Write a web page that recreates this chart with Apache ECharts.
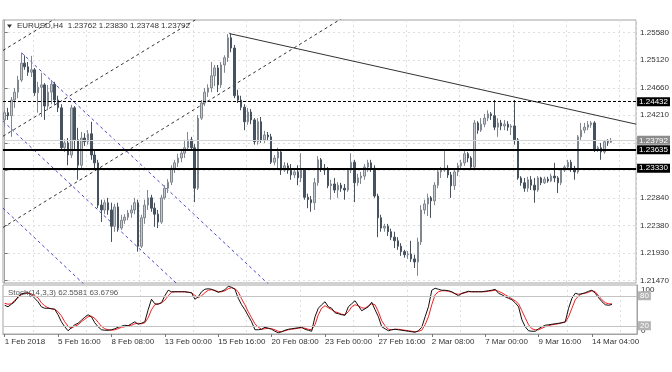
<!DOCTYPE html>
<html><head><meta charset="utf-8">
<script src="https://cdn.jsdelivr.net/npm/echarts@6/dist/echarts.min.js"></script>
<style>html,body{margin:0;padding:0;background:#fff}#c{width:672px;height:372px}</style>
</head><body><div id="c"></div>
<script>
// ---------- DATA ----------
const tradingDays = ['1 Feb','2 Feb','5 Feb','6 Feb','7 Feb','8 Feb','9 Feb','12 Feb','13 Feb','14 Feb','15 Feb','16 Feb','19 Feb','20 Feb','21 Feb','22 Feb','23 Feb','26 Feb','27 Feb','28 Feb','1 Mar','2 Mar','5 Mar','6 Mar','7 Mar','8 Mar','9 Mar','11 Mar','12 Mar','13 Mar','14 Mar','15 Mar'];
const h4Hours = ['00:00','04:00','08:00','12:00','16:00','20:00'];
const partialDays = {'11 Mar':['20:00'],'15 Mar':['00:00','04:00']};
const firstLabel = '1 Feb 2018';

// candles: [open, close, low, high]
const week1 = [
[1.2413,1.2425,1.2401,1.2429],[1.2425,1.2420,1.2413,1.2433],[1.2420,1.2446,1.2385,1.2451],[1.2446,1.2459,1.2433,1.2466],
[1.2459,1.2479,1.2449,1.2486],[1.2479,1.2507,1.2476,1.2524],[1.2507,1.2501,1.2496,1.2520],[1.2501,1.2492,1.2486,1.2509],
[1.2492,1.2496,1.2484,1.2519],[1.2496,1.2458,1.2453,1.2499],[1.2458,1.2467,1.2425,1.2476],[1.2467,1.2471,1.2418,1.2491]];
const week2 = [
[1.2471,1.2436,1.2413,1.2474],[1.2436,1.2459,1.2429,1.2471],[1.2459,1.2472,1.2439,1.2479],[1.2472,1.2446,1.2438,1.2476],
[1.2446,1.2433,1.2426,1.2453],[1.2433,1.2367,1.2363,1.2439],[1.2367,1.2375,1.2360,1.2381],[1.2375,1.2355,1.2338,1.2383],
[1.2355,1.2433,1.2350,1.2438],[1.2433,1.2380,1.2363,1.2436],[1.2380,1.2338,1.2314,1.2400],[1.2338,1.2383,1.2333,1.2393],
[1.2383,1.2377,1.2370,1.2391],[1.2377,1.2390,1.2372,1.2396],[1.2390,1.2355,1.2347,1.2410],[1.2355,1.2342,1.2333,1.2363],
[1.2342,1.2272,1.2267,1.2347],[1.2272,1.2264,1.2244,1.2281],[1.2264,1.2276,1.2257,1.2281],[1.2276,1.2264,1.2256,1.2284],
[1.2264,1.2237,1.2211,1.2276],[1.2237,1.2269,1.2228,1.2274],[1.2269,1.2234,1.2228,1.2276],[1.2234,1.2247,1.2231,1.2256],
[1.2247,1.2252,1.2241,1.2257],[1.2252,1.2259,1.2247,1.2264],[1.2259,1.2264,1.2251,1.2272],[1.2264,1.2276,1.2257,1.2284],
[1.2276,1.2204,1.2195,1.2281],[1.2204,1.2251,1.2201,1.2256]];
const week3 = [
[1.2251,1.2272,1.2241,1.2281],[1.2272,1.2284,1.2264,1.2297],[1.2284,1.2267,1.2261,1.2289],[1.2267,1.2257,1.2236,1.2276],
[1.2257,1.2244,1.2234,1.2264],[1.2244,1.2284,1.2241,1.2289],[1.2284,1.2300,1.2281,1.2305],[1.2300,1.2310,1.2292,1.2315],
[1.2310,1.2333,1.2305,1.2338],[1.2333,1.2342,1.2325,1.2347],[1.2342,1.2350,1.2335,1.2357],[1.2350,1.2358,1.2343,1.2363],
[1.2358,1.2367,1.2350,1.2380],[1.2367,1.2380,1.2362,1.2393],[1.2380,1.2367,1.2363,1.2385],[1.2367,1.2300,1.2277,1.2373],
[1.2300,1.2416,1.2297,1.2421],[1.2416,1.2441,1.2413,1.2446],[1.2441,1.2459,1.2436,1.2466],[1.2459,1.2466,1.2451,1.2472],
[1.2466,1.2486,1.2459,1.2509],[1.2486,1.2499,1.2469,1.2504],[1.2499,1.2471,1.2459,1.2504],[1.2471,1.2504,1.2466,1.2509],
[1.2504,1.2516,1.2491,1.2520],[1.2516,1.2549,1.2509,1.2555],[1.2549,1.2532,1.2525,1.2557],[1.2532,1.2453,1.2449,1.2537],
[1.2453,1.2446,1.2441,1.2463],[1.2446,1.2434,1.2429,1.2453]];
const week4 = [
[1.2434,1.2410,1.2396,1.2439],[1.2410,1.2426,1.2405,1.2433],[1.2426,1.2413,1.2406,1.2431],[1.2413,1.2377,1.2372,1.2416],
[1.2377,1.2410,1.2372,1.2416],[1.2410,1.2380,1.2375,1.2418],[1.2380,1.2388,1.2375,1.2395],[1.2388,1.2385,1.2378,1.2393],
[1.2385,1.2343,1.2340,1.2390],[1.2343,1.2350,1.2338,1.2355],[1.2350,1.2360,1.2333,1.2367],[1.2360,1.2330,1.2322,1.2363],
[1.2330,1.2337,1.2327,1.2343],[1.2337,1.2330,1.2324,1.2342],[1.2330,1.2322,1.2314,1.2340],[1.2322,1.2327,1.2317,1.2333],
[1.2327,1.2317,1.2305,1.2338],[1.2317,1.2330,1.2310,1.2358],[1.2330,1.2285,1.2281,1.2333],[1.2285,1.2281,1.2267,1.2291],
[1.2281,1.2276,1.2261,1.2287],[1.2276,1.2309,1.2264,1.2317],[1.2309,1.2347,1.2304,1.2353],[1.2347,1.2333,1.2327,1.2350],
[1.2333,1.2330,1.2322,1.2340],[1.2330,1.2304,1.2300,1.2335],[1.2304,1.2307,1.2281,1.2314],[1.2307,1.2297,1.2292,1.2317],
[1.2297,1.2305,1.2284,1.2310],[1.2305,1.2300,1.2294,1.2309]];
const week5 = [
[1.2300,1.2297,1.2281,1.2307],[1.2297,1.2330,1.2294,1.2333],[1.2330,1.2343,1.2325,1.2358],[1.2343,1.2309,1.2277,1.2347],
[1.2309,1.2317,1.2304,1.2324],[1.2317,1.2320,1.2307,1.2327],[1.2320,1.2335,1.2314,1.2340],[1.2335,1.2342,1.2327,1.2347],
[1.2342,1.2333,1.2327,1.2347],[1.2333,1.2287,1.2284,1.2338],[1.2287,1.2251,1.2219,1.2291],[1.2251,1.2234,1.2228,1.2256],
[1.2234,1.2237,1.2228,1.2241],[1.2237,1.2228,1.2221,1.2241],[1.2228,1.2219,1.2214,1.2233],[1.2219,1.2213,1.2201,1.2228],
[1.2213,1.2204,1.2198,1.2219],[1.2204,1.2195,1.2188,1.2209],[1.2195,1.2190,1.2185,1.2198],[1.2190,1.2191,1.2183,1.2196],
[1.2191,1.2183,1.2178,1.2213],[1.2183,1.2178,1.2168,1.2190],[1.2178,1.2211,1.2155,1.2218],[1.2211,1.2264,1.2206,1.2272],
[1.2264,1.2274,1.2257,1.2281],[1.2274,1.2284,1.2254,1.2291],[1.2284,1.2279,1.2251,1.2287],[1.2279,1.2305,1.2272,1.2310],
[1.2305,1.2327,1.2300,1.2333],[1.2327,1.2330,1.2317,1.2335]];
const week6 = [
[1.2330,1.2333,1.2327,1.2363],[1.2333,1.2322,1.2317,1.2338],[1.2322,1.2304,1.2284,1.2327],[1.2304,1.2327,1.2297,1.2330],
[1.2327,1.2337,1.2320,1.2342],[1.2337,1.2342,1.2330,1.2347],[1.2342,1.2357,1.2337,1.2363],[1.2357,1.2350,1.2343,1.2360],
[1.2350,1.2335,1.2330,1.2353],[1.2335,1.2408,1.2330,1.2413],[1.2408,1.2396,1.2390,1.2411],[1.2396,1.2406,1.2393,1.2416],
[1.2406,1.2416,1.2401,1.2423],[1.2416,1.2423,1.2411,1.2429],[1.2423,1.2420,1.2413,1.2426],[1.2420,1.2401,1.2396,1.2446],
[1.2401,1.2408,1.2385,1.2416],[1.2408,1.2403,1.2396,1.2413],[1.2403,1.2406,1.2396,1.2413],[1.2406,1.2401,1.2395,1.2411],
[1.2401,1.2403,1.2388,1.2406],[1.2403,1.2380,1.2372,1.2446],[1.2380,1.2317,1.2314,1.2383],[1.2317,1.2309,1.2304,1.2320],
[1.2309,1.2300,1.2294,1.2317],[1.2300,1.2314,1.2294,1.2319],[1.2314,1.2305,1.2297,1.2320],[1.2305,1.2297,1.2276,1.2317],
[1.2297,1.2317,1.2294,1.2320],[1.2317,1.2309,1.2305,1.2319]];
const week7 = [
[1.2309,1.2315,1.2307,1.2319],[1.2315,1.2312,1.2309,1.2319],[1.2312,1.2320,1.2310,1.2324],[1.2320,1.2317,1.2310,1.2342],
[1.2317,1.2309,1.2292,1.2320],[1.2309,1.2330,1.2305,1.2333],[1.2330,1.2335,1.2327,1.2338],[1.2335,1.2343,1.2330,1.2347],
[1.2343,1.2333,1.2327,1.2347],[1.2333,1.2327,1.2314,1.2337],[1.2327,1.2385,1.2324,1.2388],[1.2385,1.2396,1.2380,1.2408],
[1.2396,1.2401,1.2391,1.2408],[1.2401,1.2405,1.2396,1.2411],[1.2405,1.2408,1.2400,1.2411],[1.2408,1.2363,1.2360,1.2411],
[1.2363,1.2367,1.2360,1.2370],[1.2367,1.2360,1.2347,1.2375],[1.2360,1.2377,1.2357,1.2380],[1.2377,1.2376,1.2370,1.2381],
[1.23762,1.23792,1.23748,1.23830]];

const stochMain = [
61,58,63,68,78,84,85,86,82,75, 68,58,55,55,54,53,42,28,18,10, 16,22,25,31,37,42,38,26,18,12,
11,11,12,14,17,19,21,20,24,28, 23,25,28,52,73,64,63,66,80,91, 88,88,88,88,88,87,86,73,78,88,
93,94,93,90,87,89,92,99,97,93, 75,62,52,40,28,12,12,13,17,15, 13,9,6,8,11,13,14,15,16,17,
13,11,9,38,55,62,68,58,55,46, 44,42,41,58,64,70,60,50,54,58, 67,52,38,18,14,10,12,13,12,11,
10,9,8,7,10,17,38,58,91,95, 93,91,91,90,88,84,80,85,87,89, 88,88,88,88,89,90,91,93,85,82,
78,75,72,66,58,32,18,10,9,9, 14,18,21,22,23,24,25,26,28,55, 75,85,83,84,86,89,91,85,76,68,
62,61,62.5581];
const stochSignal = [
65,63,64,71,76,82,85,85,84,80, 76,66,60,56,54,53,48,40,28,19, 15,19,22,28,33,38,39,35,27,19,
14,12,11,12,14,17,18,20,21,24, 25,24,26,36,52,62,64,66,71,80, 87,88,88,88,88,87,86,81,76,80,
86,91,92,91,88,88,90,94,96,94, 88,74,62,48,36,24,17,13,14,15, 14,12,9,8,10,12,13,14,15,16,
15,13,12,22,42,55,60,56,52,48, 46,43,42,48,58,62,60,56,55,60, 64,62,48,30,20,13,12,13,13,12,
11,10,9,8,9,11,22,38,62,82, 88,90,90,89,87,84,83,84,86,88, 88,88,88,88,88,89,90,91,89,86,
82,78,74,70,64,50,36,22,14,12, 12,15,18,20,22,23,24,26,27,38, 55,72,80,84,85,87,90,88,80,72,
66,64,63.6796];

const priceTicks = [1.2147,1.2193,1.2238,1.2284,1.2329,1.2375,1.2421,1.2466,1.2512,1.2558];
const priceLabels = [1.2147,1.2193,1.2238,1.2284,1.2421,1.2466,1.2512,1.2558];
const levelResistance = 1.24432;
const levelBid = 1.23792;
const levelSupport1 = 1.23635;
const levelSupport2 = 1.23330;
const stochLevels = [80, 20];

// annotation lines in (bar index, price)
const trendLine = [[67.4,1.2556],[189.5,1.2406]];
const blackRays = [[[-0.5,1.2528],[20,1.2597]],[[-0.5,1.2386],[60,1.2588]],[[-0.5,1.2235],[110,1.2611]]];
const blueRays = [[[5.1,1.2524],[80,1.2137]],[[-0.5,1.2411],[60,1.2099]],[[-0.5,1.2267],[30,1.2109]]];

const titleText = 'EURUSD,H4  1.23762 1.23830 1.23748 1.23792';
const stochText = 'Stoch(14,3,3) 62.5581 63.6796';

// ---------- BUILD ----------
const categories = [];
tradingDays.forEach(d => {
  (partialDays[d] || h4Hours).forEach(h => categories.push(d + ' ' + h));
});
const candles = [].concat(week1, week2, week3, week4, week5, week6, week7);
const TOTAL = 190;
while (categories.length < TOTAL) categories.push('');

const FF = 'Liberation Sans';
const TXT = '#333';
const labelEvery = i => i % 16 === 0 && i <= 176;
const gridEvery = i => i >= 9 && (i - 9) % 16 === 0;

const chart = echarts.init(document.getElementById('c'), null, {renderer: 'canvas'});

const rayDefaults = (d, color, dash) => ({
  type: 'line', xAxisIndex: 2, yAxisIndex: 0, data: d, symbol: 'none', silent: true, clip: true,
  lineStyle: {color: color, width: 1, type: dash}, z: 3
});

const series = [
  {
    type: 'candlestick', xAxisIndex: 0, yAxisIndex: 0, data: candles, barWidth: 2,
    itemStyle: {color: '#c5c9ce', color0: '#46525f', borderColor: '#80878f', borderColor0: '#46525f', borderWidth: 1},
    z: 4,
    markLine: {
      silent: true, symbol: ['none', 'none'], animation: false, precision: 5,
      label: {show: true, position: 'end', distance: 1, fontSize: 8, fontFamily: FF,
        padding: [1, 2, 0, 2], formatter: p => Number(p.value).toFixed(5)},
      data: [
        {yAxis: levelResistance, lineStyle: {color: '#000', type: [3, 2], width: 1}, label: {backgroundColor: '#000', color: '#fff'}},
        {yAxis: levelBid, lineStyle: {color: '#d4d4d4', type: 'solid', width: 1}, label: {backgroundColor: '#8c8c8c', color: '#fff'}},
        {yAxis: levelSupport1, lineStyle: {color: '#000', type: 'solid', width: 2}, label: {backgroundColor: '#000', color: '#fff'}},
        {yAxis: levelSupport2, lineStyle: {color: '#000', type: 'solid', width: 2}, label: {backgroundColor: '#000', color: '#fff'}}
      ]
    }
  },
  rayDefaults(trendLine, '#333', 'solid')
];
blackRays.forEach(r => series.push(rayDefaults(r, '#333', [3, 3])));
blueRays.forEach(r => series.push(rayDefaults(r, '#4646c8', [3, 3])));
series.push({
  type: 'line', xAxisIndex: 1, yAxisIndex: 1, data: stochSignal, symbol: 'none', silent: true,
  lineStyle: {color: '#ff1a1a', width: 1}, z: 3
});
series.push({
  type: 'line', xAxisIndex: 1, yAxisIndex: 1, data: stochMain, symbol: 'none', silent: true,
  lineStyle: {color: '#111', width: 1}, z: 4,
  markLine: {
    silent: true, symbol: ['none', 'none'], animation: false, precision: 0,
    lineStyle: {color: '#c4c4c4', type: 'solid', width: 1},
    label: {show: true, position: 'end', distance: 1, fontSize: 8, fontFamily: FF, color: '#fff',
      backgroundColor: '#b4b4b4', padding: [1, 2, 0, 2], formatter: p => String(p.value)},
    data: stochLevels.map(v => ({yAxis: v}))
  }
});

chart.setOption({
  animation: false,
  backgroundColor: '#fff',
  textStyle: {fontFamily: FF},
  title: [
    {text: titleText, left: 17, top: 22, padding: 0, textStyle: {fontSize: 8, fontWeight: 'normal', color: TXT, fontFamily: FF}},
    {text: stochText, left: 8, top: 289, padding: 0, textStyle: {fontSize: 8, fontWeight: 'normal', color: '#555', fontFamily: FF}}
  ],
  graphic: [{type: 'polygon', shape: {points: [[7, 24.5], [12, 24.5], [9.5, 28]]}, style: {fill: '#333'}}],
  grid: [
    {left: 3, right: 35, top: 20, height: 263, show: true, borderColor: '#a3a3a3', borderWidth: 1},
    {left: 3, right: 35, top: 285, height: 49, show: true, borderColor: '#a3a3a3', borderWidth: 1}
  ],
  xAxis: [
    {type: 'category', gridIndex: 0, data: categories, boundaryGap: true,
      axisLine: {show: false}, axisTick: {show: false}, axisLabel: {show: false},
      splitLine: {show: true, interval: gridEvery, lineStyle: {color: '#dedede', type: [2, 3]}}},
    {type: 'category', gridIndex: 1, data: categories, boundaryGap: true,
      axisLine: {show: true, lineStyle: {color: '#a3a3a3'}},
      axisTick: {show: true, alignWithLabel: true, interval: labelEvery, length: 3, lineStyle: {color: '#777'}},
      axisLabel: {show: true, interval: labelEvery, align: 'left', margin: 4, fontSize: 8, color: TXT, fontFamily: FF,
        formatter: (v, i) => i === 0 ? firstLabel : v},
      splitLine: {show: true, interval: gridEvery, lineStyle: {color: '#dedede', type: [2, 3]}}},
    {type: 'value', gridIndex: 0, min: -0.5, max: TOTAL - 0.5, show: false}
  ],
  yAxis: [
    {type: 'value', gridIndex: 0, position: 'right', min: 1.21431, max: 1.25784, scale: true,
      axisLine: {show: true, lineStyle: {color: '#a3a3a3'}},
      axisTick: {show: true, length: 3, customValues: priceTicks, lineStyle: {color: '#777'}},
      axisLabel: {show: true, customValues: priceLabels, margin: 4, fontSize: 8, color: TXT, fontFamily: FF,
        formatter: v => v.toFixed(5)},
      splitLine: {show: true, lineStyle: {color: '#dedede', type: [2, 3]}}},
    {type: 'value', gridIndex: 1, position: 'right', min: 3.5, max: 101.5,
      axisLine: {show: true, lineStyle: {color: '#a3a3a3'}},
      axisTick: {show: false},
      axisLabel: {show: true, customValues: [92, 10], margin: 4, fontSize: 8, color: TXT, fontFamily: FF,
        formatter: v => v > 50 ? '100' : '0'},
      splitLine: {show: false}}
  ],
  series: series
});
</script></body></html>
